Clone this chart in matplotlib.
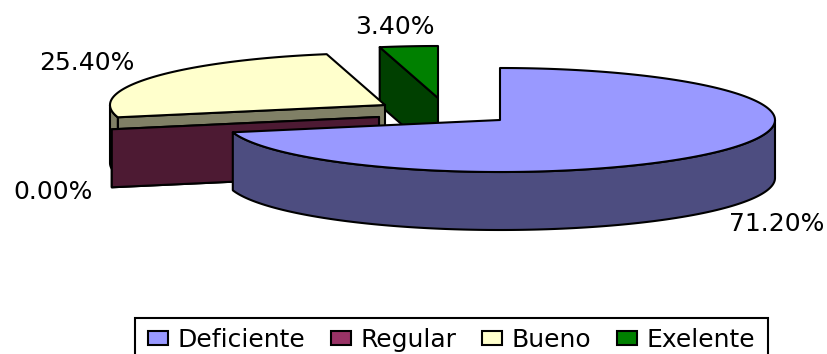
import numpy as np
import matplotlib
matplotlib.use("Agg")
import matplotlib.pyplot as plt
from matplotlib.patches import Patch, Polygon, Rectangle

# ================================
# DATA
# ================================
categories = ["Deficiente", "Regular", "Bueno", "Exelente"]
percentages = [71.2, 0.0, 25.4, 3.4]
value_labels = ["71.20%", "0.00%", "25.40%", "3.40%"]

# ================================
# STYLE
# ================================
top_colors = ["#9999ff", "#993366", "#ffffcc", "#008000"]
side_colors = ["#4d4d80", "#4d1a33", "#808066", "#004000"]
centers = [(500, 120), (379, 117), (385, 105), (438, 98)]
label_pos = [(777, 224), (53, 192), (87, 63.5), (395, 27)]
rx, ry, depth = 275, 52, 58
edge = {"edgecolor": "black", "linewidth": 1.5, "joinstyle": "round"}


def rim(center, theta):
    # theta runs clockwise from 12 o'clock, in radians
    return np.column_stack([
        center[0] + rx * np.sin(theta),
        center[1] - ry * np.cos(theta),
    ])


def draw_slice(ax, center, start, stop, top, side):
    apex = np.array([center])
    down = np.array([0, depth])

    # cut faces, only the ones turned toward the viewer
    for angle in (start, stop):
        end = rim(center, np.array([angle]))
        if np.sin(angle) < 0 and angle == start or np.sin(angle) > 0 and angle == stop:
            face = np.vstack([apex, end, end + down, apex + down])
            ax.add_patch(Polygon(face, facecolor=side, **edge))

    # outer wall on the near half of the rim
    near = np.linspace(max(start, np.pi / 2), min(stop, 3 * np.pi / 2), 200)
    if near[-1] > near[0]:
        arc = rim(center, near)
        ax.add_patch(Polygon(np.vstack([arc, arc[::-1] + down]), facecolor=side, **edge))

    # top surface
    if stop > start:
        arc = rim(center, np.linspace(start, stop, 300))
        ax.add_patch(Polygon(np.vstack([apex, arc]), facecolor=top, **edge))


# ================================
# FIGURE
# ================================
fig = plt.figure(figsize=(8.28, 3.54), dpi=100)
ax = fig.add_axes([0, 0, 1, 1])
ax.set_xlim(0, 828)
ax.set_ylim(354, 0)
ax.axis("off")

edges = np.concatenate([[0], np.cumsum(percentages)]) / sum(percentages) * 2 * np.pi

# back slices first so the big one sits in front
for i in [3, 2, 1, 0]:
    draw_slice(ax, centers[i], edges[i], edges[i + 1], top_colors[i], side_colors[i])

for label, (x, y) in zip(value_labels, label_pos):
    ax.text(x, y, label, fontsize=18, family="DejaVu Sans", ha="center", va="center")

# ================================
# LEGEND
# ================================
# box runs off the bottom of the figure, so it is drawn on its own
ax.add_patch(Rectangle((135, 318), 633, 50, facecolor="white", edgecolor="black", linewidth=1.5))

handles = [Patch(facecolor=c, edgecolor="black", linewidth=1.5) for c in top_colors]
ax.legend(
    handles,
    categories,
    ncols=4,
    loc="upper left",
    mode="expand",
    bbox_to_anchor=(148 / 828, 0, 607 / 828, 26 / 354),
    prop={"family": "DejaVu Sans", "size": 18},
    frameon=False,
    borderaxespad=0,
    borderpad=0,
    handlelength=0.8,
    handleheight=0.52,
    handletextpad=0.38,
)

plt.savefig("out.png", dpi=100)
plt.close()
